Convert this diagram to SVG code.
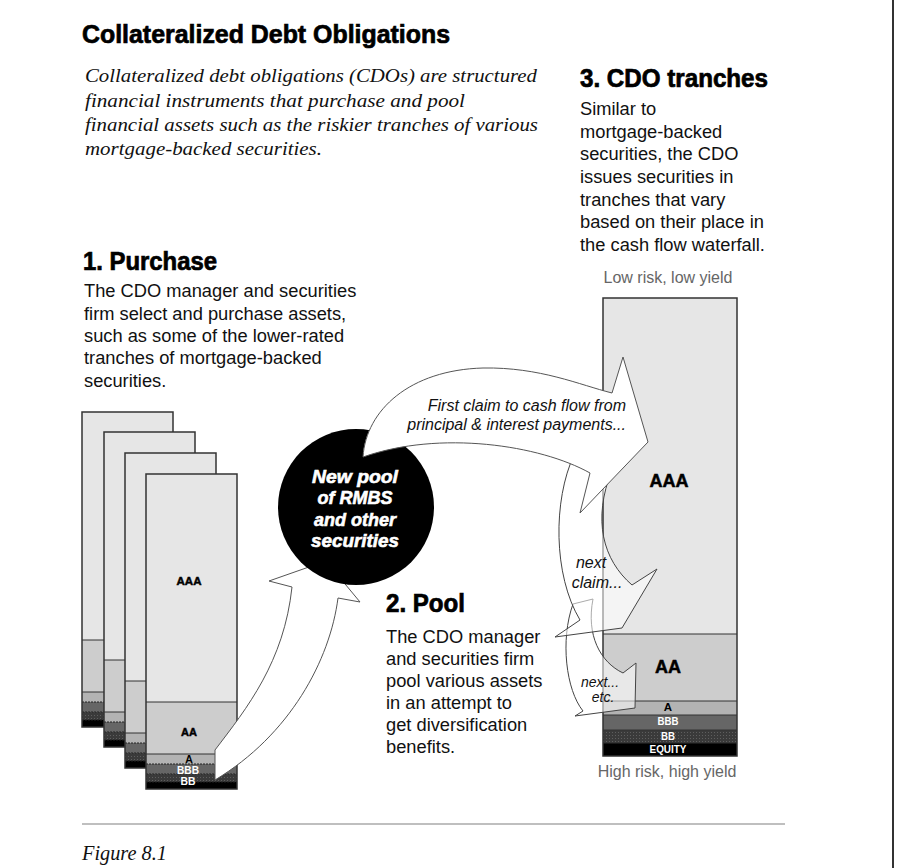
<svg xmlns="http://www.w3.org/2000/svg" width="900" height="868" viewBox="0 0 900 868">
<defs>
<pattern id="tex" width="3" height="3" patternUnits="userSpaceOnUse"><rect width="3" height="3" fill="#3a3a3a"/><rect width="1" height="1" fill="#5e5e5e"/></pattern>
<style>
.h{font-family:"Liberation Sans",Arial,sans-serif;font-weight:bold;fill:#000;stroke:#000;stroke-width:0.7}
.b{font-family:"Liberation Sans",Arial,sans-serif;font-size:18.3px;fill:#111}
.i{font-family:"Liberation Serif","Times New Roman",serif;font-style:italic;font-size:19px;fill:#111}
.al{font-family:"Liberation Sans",Arial,sans-serif;font-style:italic;font-size:16px;fill:#111}
.g{font-family:"Liberation Sans",Arial,sans-serif;font-size:16px;fill:#666;text-anchor:middle}
.t1{fill:#e6e6e6}.t2{fill:#cdcdcd}.t3{fill:#b3b3b3}.t4{fill:#666}.t5{fill:url(#tex)}.t6{fill:#000}
.sep{stroke:#333;stroke-width:1}
.dsep{stroke:#222;stroke-width:1;stroke-dasharray:2 1}
.frame{fill:none;stroke:#333;stroke-width:1.5}
.arrow{fill:#fff;stroke:#555;stroke-width:1}
.ghost{fill:#fff;fill-opacity:0.55;stroke:#444;stroke-width:1}
.lab{font-family:"Liberation Sans",Arial,sans-serif;font-weight:bold;text-anchor:middle;fill:#000}
.hv{stroke:#000;stroke-width:0.5}
.wl{fill:#fff}
.ct{font-family:"Liberation Sans",Arial,sans-serif;font-weight:bold;font-style:italic;font-size:18px;fill:#fff;stroke:#fff;stroke-width:0.6;text-anchor:middle}
</style>
<g id="stack">
<rect x="0" y="0" width="91" height="228" class="t1"/>
<rect x="0" y="228" width="91" height="52" class="t2"/>
<rect x="0" y="280" width="91" height="10" class="t3"/>
<rect x="0" y="290" width="91" height="10" class="t4"/>
<rect x="0" y="300" width="91" height="8" class="t5"/>
<rect x="0" y="308" width="91" height="7" class="t6"/>
<line x1="0" y1="228" x2="91" y2="228" class="sep"/>
<line x1="0" y1="280" x2="91" y2="280" class="sep"/>
<line x1="0" y1="290" x2="91" y2="290" class="dsep"/>
<line x1="0" y1="300" x2="91" y2="300" class="dsep"/>
<line x1="0" y1="308" x2="91" y2="308" class="dsep"/>
<rect x="0" y="0" width="91" height="315" class="frame"/>
</g>
</defs>
<rect width="900" height="868" fill="#fff"/>
<line x1="893" y1="0" x2="893" y2="868" stroke="#333" stroke-width="2"/>

<g id="title">
<text x="82" y="43" class="h" font-size="26" textLength="368" lengthAdjust="spacingAndGlyphs">Collateralized Debt Obligations</text>
</g>
<g id="intro" class="i">
<text x="85" y="82" textLength="452" lengthAdjust="spacingAndGlyphs">Collateralized debt obligations (CDOs) are structured</text>
<text x="85" y="107" textLength="380" lengthAdjust="spacingAndGlyphs">financial instruments that purchase and pool</text>
<text x="85" y="131" textLength="453" lengthAdjust="spacingAndGlyphs">financial assets such as the riskier tranches of various</text>
<text x="85" y="155" textLength="237" lengthAdjust="spacingAndGlyphs">mortgage-backed securities.</text>
</g>

<g id="step3-text">
<text x="580" y="87" class="h" font-size="25" textLength="188" lengthAdjust="spacingAndGlyphs">3. CDO tranches</text>
<g class="b">
<text x="580" y="115">Similar to</text>
<text x="580" y="138">mortgage-backed</text>
<text x="580" y="160">securities, the CDO</text>
<text x="580" y="183">issues securities in</text>
<text x="580" y="206">tranches that vary</text>
<text x="580" y="228">based on their place in</text>
<text x="580" y="251">the cash flow waterfall.</text>
</g>
</g>

<g id="step1-text">
<text x="83" y="270" class="h" font-size="25" textLength="134" lengthAdjust="spacingAndGlyphs">1. Purchase</text>
<g class="b">
<text x="84" y="297">The CDO manager and securities</text>
<text x="84" y="320">firm select and purchase assets,</text>
<text x="84" y="342">such as some of the lower-rated</text>
<text x="84" y="364">tranches of mortgage-backed</text>
<text x="84" y="387">securities.</text>
</g>
</g>

<g id="step2-text">
<text x="386" y="612" class="h" font-size="25" textLength="79" lengthAdjust="spacingAndGlyphs">2. Pool</text>
<g class="b">
<text x="386" y="643">The CDO manager</text>
<text x="386" y="665">and securities firm</text>
<text x="386" y="687">pool various assets</text>
<text x="386" y="709">in an attempt to</text>
<text x="386" y="731">get diversification</text>
<text x="386" y="753">benefits.</text>
</g>
</g>

<g id="mbs-stacks">
<use href="#stack" transform="translate(82,412)"/>
<use href="#stack" transform="translate(104,432)"/>
<use href="#stack" transform="translate(125,453)"/>
<use href="#stack" transform="translate(146,474)"/>
<text x="189" y="585" class="lab hv" font-size="11.5">AAA</text>
<text x="189" y="736" class="lab hv" font-size="11">AA</text>
<text x="189" y="763" class="lab" font-size="10.5">A</text>
<text x="188" y="774" class="lab wl" font-size="10" textLength="22" lengthAdjust="spacingAndGlyphs">BBB</text>
<text x="188" y="785" class="lab wl" font-size="10" textLength="15" lengthAdjust="spacingAndGlyphs">BB</text>
</g>

<g id="connectors">
<path id="arrow-purchase" class="arrow" d="M215,750 C247,708 284,662 292,587 L269,581 L326,561 L360,602 L338,598 C330,660 290,735 215,780 Z"/>
</g>

<g id="pool-node">
<circle cx="356" cy="507" r="78" fill="#000"/>
<text x="355" y="483" class="ct" textLength="86" lengthAdjust="spacingAndGlyphs">New pool</text>
<text x="355" y="504" class="ct">of RMBS</text>
<text x="355" y="526" class="ct">and other</text>
<text x="355" y="547" class="ct" textLength="88" lengthAdjust="spacingAndGlyphs">securities</text>
</g>

<g id="cdo-tranches">
<text x="668" y="283" class="g">Low risk, low yield</text>
<rect x="603" y="298" width="134" height="336" class="t1"/>
<rect x="603" y="634" width="134" height="67" class="t2"/>
<rect x="603" y="701" width="134" height="14" class="t3"/>
<rect x="603" y="715" width="134" height="15" class="t4"/>
<rect x="603" y="730" width="134" height="13" class="t5"/>
<rect x="603" y="743" width="134" height="13" class="t6"/>
<line x1="603" y1="634" x2="737" y2="634" class="sep"/>
<line x1="603" y1="701" x2="737" y2="701" class="sep"/>
<line x1="603" y1="715" x2="737" y2="715" class="sep"/>
<line x1="603" y1="730" x2="737" y2="730" class="sep"/>
<line x1="603" y1="743" x2="737" y2="743" class="sep"/>
<rect x="603" y="298" width="134" height="458" class="frame"/>
<text x="669" y="487" class="lab hv" font-size="18">AAA</text>
<text x="668" y="673" class="lab hv" font-size="18">AA</text>
<text x="668" y="711" class="lab" font-size="11.5">A</text>
<text x="668" y="725" class="lab wl" font-size="11" textLength="21" lengthAdjust="spacingAndGlyphs">BBB</text>
<text x="668" y="740" class="lab wl" font-size="11" textLength="14" lengthAdjust="spacingAndGlyphs">BB</text>
<text x="668" y="753" class="lab wl" font-size="11" textLength="37" lengthAdjust="spacingAndGlyphs">EQUITY</text>
<text x="667" y="777" class="g">High risk, high yield</text>
</g>

<g id="connectors-flow">
<path id="arrow-etc" class="ghost" d="M573,604 L593,599 C586,635 600,662 623,673 L636,663 L635,708 L575,716 L583,711 C566,690 560,640 573,604 Z"/>
<path id="arrow-next" class="ghost" d="M574,455 C553,500 553,575 580,620 L555,637 L622,628 L657,569 L632,585 C603,560 592,520 612,470 Z"/>
<path id="arrow-first" class="arrow" d="M363,457 C366,410 410,370 483,368 C540,367 580,385 612,393 L623,357 L648,442 L580,513 L590,473 C540,445 440,430 363,457 Z"/>
<g class="al">
<text x="626" y="411" text-anchor="end">First claim to cash flow from</text>
<text x="626" y="430" text-anchor="end">principal &amp; interest payments...</text>
<text x="591" y="568" text-anchor="middle">next</text>
<text x="597" y="588" text-anchor="middle">claim...</text>
<text x="600" y="687" text-anchor="middle" font-size="14">next...</text>
<text x="603" y="702" text-anchor="middle" font-size="14">etc.</text>
</g>
</g>

<g id="footer">
<line x1="82" y1="824" x2="785" y2="824" stroke="#aaa" stroke-width="1.5"/>
<text x="82" y="860" font-family="'Liberation Serif','Times New Roman',serif" font-style="italic" font-size="21" fill="#111" textLength="85" lengthAdjust="spacingAndGlyphs">Figure 8.1</text>
</g>
</svg>
